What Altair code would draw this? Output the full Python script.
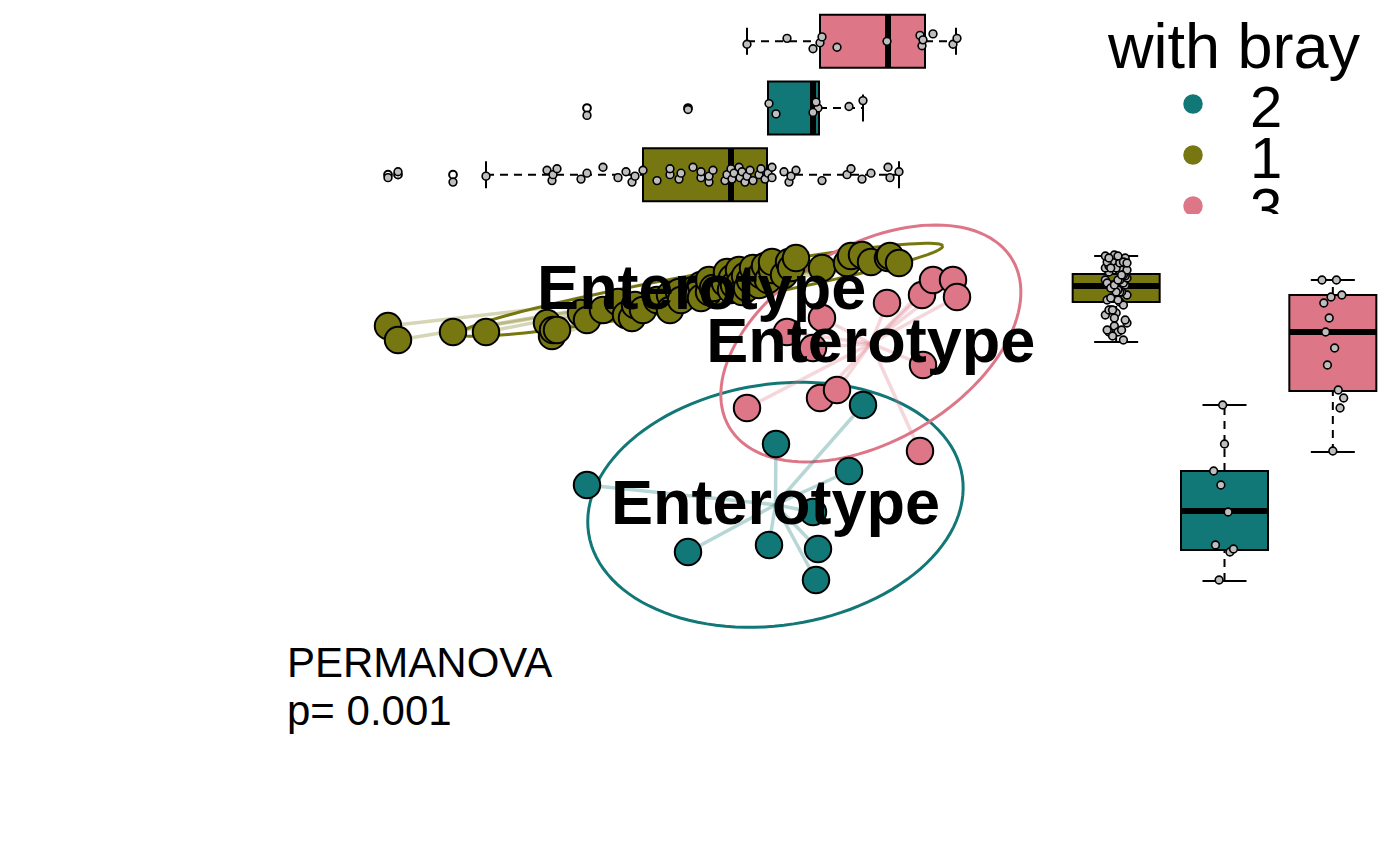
import altair as alt
import numpy as np
import pandas as pd

# PCoA1 / PCoA2 scores of each sample, per enterotype
green_x = [-0.262, -0.252, -0.197, -0.164, -0.103, -0.098, -0.097, -0.093, -0.069, -0.063,
           -0.047, -0.032, -0.024, -0.018, -0.015, -0.007, 0.007, 0.020, 0.020, 0.029,
           0.031, 0.043, 0.051, 0.051, 0.059, 0.059, 0.063, 0.075, 0.077, 0.081,
           0.082, 0.084, 0.089, 0.090, 0.092, 0.095, 0.097, 0.100, 0.103, 0.109,
           0.111, 0.115, 0.118, 0.122, 0.122, 0.134, 0.139, 0.141, 0.146, 0.172,
           0.197, 0.201, 0.212, 0.221, 0.238, 0.240, 0.249]
green_y = [0.104, 0.090, 0.098, 0.098, 0.107, 0.094, 0.100, 0.100, 0.117, 0.110,
           0.120, 0.128, 0.115, 0.112, 0.125, 0.120, 0.130, 0.135, 0.120, 0.138,
           0.130, 0.140, 0.145, 0.132, 0.138, 0.150, 0.142, 0.147, 0.158, 0.140,
           0.152, 0.145, 0.160, 0.147, 0.138, 0.154, 0.142, 0.150, 0.162, 0.145,
           0.155, 0.164, 0.150, 0.160, 0.168, 0.155, 0.168, 0.162, 0.172, 0.162,
           0.167, 0.174, 0.175, 0.168, 0.172, 0.174, 0.167]
teal_x = [-0.063, 0.038, 0.119, 0.126, 0.168, 0.166, 0.163, 0.199, 0.213]
teal_y = [-0.055, -0.122, -0.115, -0.014, -0.119, -0.150, -0.082, -0.041, 0.025]
pink_x = [0.097, 0.137, 0.163, 0.170, 0.172, 0.187, 0.237, 0.270, 0.272, 0.273, 0.283, 0.303, 0.307]
pink_y = [0.022, 0.098, 0.082, 0.032, 0.112, 0.040, 0.127, -0.021, 0.135, 0.065, 0.150, 0.150, 0.133]

groups = ["1", "2", "3"]
colors = ["#777711", "#117777", "#DD7788"]

# boxplot statistics
box_x_lo = [-0.164, 0.118, 0.097]
box_x_q1 = [-0.007, 0.118, 0.170]
box_x_med = [0.081, 0.163, 0.238]
box_x_q3 = [0.117, 0.169, 0.275]
box_x_hi = [0.249, 0.213, 0.306]
box_y_lo = [0.088, -0.151, -0.022]
box_y_q1 = [0.128, -0.120, 0.039]
box_y_med = [0.144, -0.081, 0.098]
box_y_q3 = [0.156, -0.041, 0.135]
box_y_hi = [0.174, 0.025, 0.150]

# confidence ellipses: semi axes and rotation (degrees)
ell_a = [0.245, 0.189, 0.1645]
ell_b = [0.016, 0.1205, 0.0974]
ell_angle = [10.3, 8.7, 30.6]

legend_title = "with bray"
legend_labels = ["2", "1", "3"]
cluster_label = "Enterotype"
permanova_text = "PERMANOVA\np= 0.001"

X_DOM = [-0.642, 0.412]
Y_DOM = [-0.424, 0.216]
FONT = "Liberation Sans"
DASH = [8, 6]

samples = pd.concat([
    pd.DataFrame({"group": "1", "x": green_x, "y": green_y}),
    pd.DataFrame({"group": "2", "x": teal_x, "y": teal_y}),
    pd.DataFrame({"group": "3", "x": pink_x, "y": pink_y}),
], ignore_index=True)

stats = pd.DataFrame({
    "group": groups,
    "xlo": box_x_lo, "xq1": box_x_q1, "xmed": box_x_med, "xq3": box_x_q3, "xhi": box_x_hi,
    "ylo": box_y_lo, "yq1": box_y_q1, "ymed": box_y_med, "yq3": box_y_q3, "yhi": box_y_hi,
})
samp = samples.merge(stats, on="group")
samp["x_out"] = (samp.x < samp.xlo - 0.002) | (samp.x > samp.xhi + 0.002)
samp["y_out"] = (samp.y < samp.ylo - 0.002) | (samp.y > samp.yhi + 0.002)

cent = samples.groupby("group", as_index=False)[["x", "y"]].mean()
cent["label"] = cluster_label

ell_rows = []
t = np.linspace(0, 2 * np.pi, 121)
for g, a, b, ang in zip(groups, ell_a, ell_b, ell_angle):
    c = cent[cent.group == g].iloc[0]
    th = np.deg2rad(ang)
    ell_rows.append(pd.DataFrame({
        "group": g,
        "k": np.arange(len(t)),
        "x": c.x + a * np.cos(t) * np.cos(th) - b * np.sin(t) * np.sin(th),
        "y": c.y + a * np.cos(t) * np.sin(th) + b * np.sin(t) * np.cos(th),
    }))
ellipses = pd.concat(ell_rows, ignore_index=True)

color = alt.Color("group:N", scale=alt.Scale(domain=groups, range=colors), legend=None)
xs = alt.Scale(domain=X_DOM, nice=False, zero=False)
ys = alt.Scale(domain=Y_DOM, nice=False, zero=False)

# ---- top marginal boxplot (PCoA1)
ytop = alt.Y("group:N", sort=["3", "2", "1"], axis=None,
             scale=alt.Scale(type="band", paddingInner=0.2, paddingOuter=0.1))
tbase = alt.Chart(stats)
top_box = tbase.mark_bar(size=53, stroke="black", strokeWidth=2, opacity=1).encode(
    x=alt.X("xq1:Q", scale=xs, axis=None), x2="xq3", y=ytop, color=color)
top_wlo = tbase.mark_rule(color="black", strokeWidth=2, strokeDash=DASH).encode(
    x=alt.X("xlo:Q", scale=xs), x2="xq1", y=ytop)
top_whi = tbase.mark_rule(color="black", strokeWidth=2, strokeDash=DASH).encode(
    x=alt.X("xq3:Q", scale=xs), x2="xhi", y=ytop)
top_cap1 = tbase.mark_tick(color="black", thickness=2, size=27, opacity=1).encode(
    x=alt.X("xlo:Q", scale=xs), y=ytop)
top_cap2 = tbase.mark_tick(color="black", thickness=2, size=27, opacity=1).encode(
    x=alt.X("xhi:Q", scale=xs), y=ytop)
top_med = tbase.mark_tick(color="black", thickness=6, size=53, opacity=1).encode(
    x=alt.X("xmed:Q", scale=xs), y=ytop)
top_out = alt.Chart(samp).transform_filter("datum.x_out").mark_point(
    shape="circle", filled=False, color="black", strokeWidth=2, size=60, opacity=1
).encode(x=alt.X("x:Q", scale=xs), y=ytop)
top_pts = alt.Chart(samp).transform_window(rn="row_number()").transform_calculate(
    jit="((datum.rn * 7) % 11 - 5) / 18"
).mark_point(shape="circle", filled=True, fill="#BEBEBE", stroke="black",
             strokeWidth=1.6, size=60, opacity=1).encode(
    x=alt.X("x:Q", scale=xs), y=ytop,
    yOffset=alt.YOffset("jit:Q", scale=alt.Scale(domain=[-1, 1])))
top = alt.layer(top_box, top_wlo, top_whi, top_cap1, top_cap2, top_med, top_out, top_pts
                ).properties(width=1054, height=200)

# ---- legend panel (clipped as in the original)
leg = pd.DataFrame({"label": legend_labels, "group": legend_labels})
ly = alt.Y("label:N", sort=legend_labels, axis=None,
           scale=alt.Scale(type="point", range=[96, 198], padding=0))
leg_dots = alt.Chart(leg).mark_circle(size=380, opacity=1, clip=True).encode(
    x=alt.value(131), y=ly, color=color)
leg_text = alt.Chart(leg).mark_text(align="left", baseline="middle", dy=6, fontSize=58,
                                    font=FONT, clip=True, color="black").encode(
    x=alt.value(188), y=ly, text="label:N")
leg_title = alt.Chart(pd.DataFrame({"t": [legend_title]})).mark_text(
    align="center", baseline="alphabetic", fontSize=63, font=FONT, color="black"
).encode(x=alt.value(172), y=alt.value(60), text="t:N")
legend = alt.layer(leg_dots, leg_text, leg_title).properties(width=325, height=206)

# ---- main ordination panel
ell = alt.Chart(ellipses).mark_line(strokeWidth=3).encode(
    x=alt.X("x:Q", scale=xs, axis=None), y=alt.Y("y:Q", scale=ys, axis=None),
    color=color, detail="group:N", order="k:Q")
spider = alt.Chart(samples).transform_joinaggregate(
    cx="mean(x)", cy="mean(y)", groupby=["group"]
).mark_rule(strokeWidth=3.5, opacity=0.3).encode(
    x=alt.X("x:Q", scale=xs), y=alt.Y("y:Q", scale=ys), x2="cx:Q", y2="cy:Q", color=color)
pts = alt.Chart(samples).mark_circle(size=700, stroke="black", strokeWidth=2, opacity=1).encode(
    x=alt.X("x:Q", scale=xs), y=alt.Y("y:Q", scale=ys), color=color)
labels = alt.Chart(cent).mark_text(fontSize=63, fontWeight="bold", font=FONT, color="black",
                                   align="center", baseline="middle").encode(
    x=alt.X("x:Q", scale=xs), y=alt.Y("y:Q", scale=ys), text="label:N")
annot = alt.Chart(pd.DataFrame({"t": [permanova_text]})).mark_text(
    align="left", baseline="alphabetic", fontSize=42, font=FONT, lineBreak="\n",
    lineHeight=48, color="black"
).encode(x=alt.value(279), y=alt.value(463), text="t:N")
main = alt.layer(ell, spider, pts, labels, annot).properties(width=1054, height=640)

# ---- right marginal boxplot (PCoA2)
xr = alt.X("group:N", sort=groups, axis=None,
           scale=alt.Scale(type="band", paddingInner=0.2, paddingOuter=0.1))
rbase = alt.Chart(stats)
r_box = rbase.mark_bar(size=87, stroke="black", strokeWidth=2, opacity=1).encode(
    y=alt.Y("yq1:Q", scale=ys, axis=None), y2="yq3", x=xr, color=color)
r_wlo = rbase.mark_rule(color="black", strokeWidth=2, strokeDash=DASH).encode(
    y=alt.Y("ylo:Q", scale=ys), y2="yq1", x=xr)
r_whi = rbase.mark_rule(color="black", strokeWidth=2, strokeDash=DASH).encode(
    y=alt.Y("yq3:Q", scale=ys), y2="yhi", x=xr)
r_cap1 = rbase.mark_tick(color="black", thickness=2, size=44, opacity=1).encode(
    y=alt.Y("ylo:Q", scale=ys), x=xr)
r_cap2 = rbase.mark_tick(color="black", thickness=2, size=44, opacity=1).encode(
    y=alt.Y("yhi:Q", scale=ys), x=xr)
r_med = rbase.mark_tick(color="black", thickness=6, size=87, opacity=1).encode(
    y=alt.Y("ymed:Q", scale=ys), x=xr)
r_out = alt.Chart(samp).transform_filter("datum.y_out").mark_point(
    shape="circle", filled=False, color="black", strokeWidth=2, size=60, opacity=1
).encode(y=alt.Y("y:Q", scale=ys), x=xr)
r_pts = alt.Chart(samp).transform_window(rn="row_number()").transform_calculate(
    jit="((datum.rn * 5) % 13 - 6) / 24"
).mark_point(shape="circle", filled=True, fill="#BEBEBE", stroke="black",
             strokeWidth=1.6, size=60, opacity=1).encode(
    y=alt.Y("y:Q", scale=ys), x=xr,
    xOffset=alt.XOffset("jit:Q", scale=alt.Scale(domain=[-1, 1])))
right = alt.layer(r_box, r_wlo, r_whi, r_cap1, r_cap2, r_med, r_out, r_pts
                  ).properties(width=325, height=640)

chart = alt.vconcat(
    alt.hconcat(top, legend, spacing=0),
    alt.hconcat(main, right, spacing=0),
    spacing=0,
).properties(padding=0).configure_view(strokeWidth=0)

chart.save("out.html", embed_options={"renderer": "svg", "actions": False})
